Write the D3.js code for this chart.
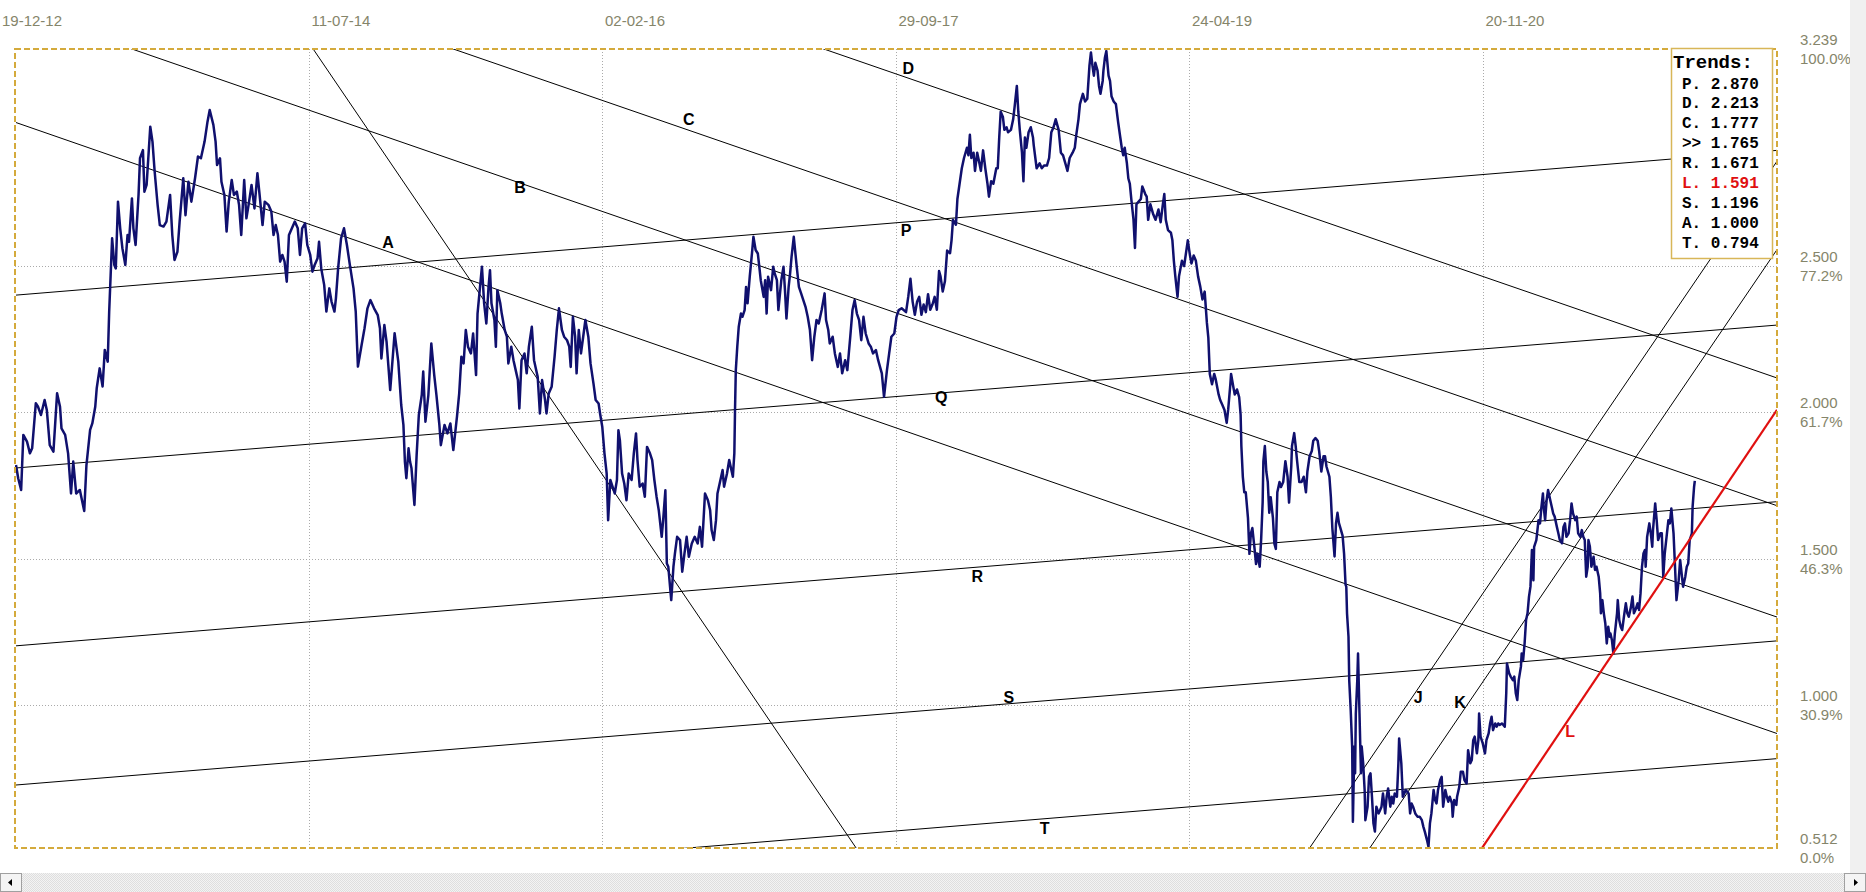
<!DOCTYPE html>
<html>
<head>
<meta charset="utf-8">
<script src="https://cdn.jsdelivr.net/npm/d3@7"></script>
<style>
body { margin:0; background:#fff; overflow:hidden; }
svg { display:block; }
</style>
</head>
<body>
<svg id="view"></svg>
<script>
// date axis: trading-bar index of each label
var dateTicks  = [0, 400, 800, 1200, 1600, 2000];
var dateLabels = ["19-12-12", "11-07-14", "02-02-16", "29-09-17", "24-04-19", "20-11-20"];

// price axis
var valueTicks  = [3.239, 2.5, 2.0, 1.5, 1.0, 0.512];
var valueLabels = ["3.239", "2.500", "2.000", "1.500", "1.000", "0.512"];
var pctLabels   = ["100.0%", "77.2%", "61.7%", "46.3%", "30.9%", "0.0%"];
var gridValues  = [2.5, 2.0, 1.5, 1.0];

// legend
var trendNames  = ["P.", "D.", "C.", ">>", "R.", "L.", "S.", "A.", "T."];
var trendValues = ["2.870", "2.213", "1.777", "1.765", "1.671", "1.591", "1.196", "1.000", "0.794"];

// trend lines: name, bar1, value1, bar2, value2
var trendLines = [
	["A", 0, 2.988, 2288, 1.000],
	["B", 158, 3.239, 2288, 1.397],
	["C", 596, 3.239, 2288, 1.777],
	["D", 1101, 3.239, 2288, 2.213],
	["", 405, 3.239, 1145, 0.512],
	["P", 0, 2.399, 2288, 2.870],
	["Q", 0, 1.809, 2288, 2.274],
	["R", 0, 1.202, 2288, 1.671],
	["S", 0, 0.727, 2288, 1.196],
	["T", 916, 0.512, 2288, 0.794],
	["J", 1763, 0.512, 2197, 2.109],
	["K", 1845, 0.512, 2279, 2.109],
	["L", 1998, 0.512, 2288, 1.591]
];

// letters written next to the lines: name, bar, value
var lineLabels = [
	["A", 507, 2.577], ["B", 687, 2.765], ["C", 917, 2.997], ["D", 1216, 3.174],
	["P", 1213, 2.618], ["Q", 1261, 2.048], ["R", 1310, 1.437], ["S", 1353, 1.027],
	["T", 1402, 0.577], ["J", 1911, 1.024], ["K", 1968, 1.010], ["L", 2118, 0.911]
];

// closing prices [bar, value]
var price = [
[0,1.819],[3,1.774],[7,1.734],[10,1.922],[15,1.899],[19,1.859],[22,1.876],[27,2.030],[30,2.018],[34,1.990],[39,2.041],[42,2.007],[46,1.887],[51,1.865],[53,1.944],[56,2.064],[60,2.018],[62,1.944],[67,1.922],[71,1.859],[75,1.722],[78,1.831],[82,1.722],[87,1.734],[93,1.662],[96,1.819],[101,1.939],[104,1.961],[108,2.018],[110,2.081],[114,2.149],[118,2.087],[121,2.212],[125,2.172],[127,2.343],[129,2.468],[131,2.593],[134,2.502],[136,2.490],[139,2.718],[142,2.627],[145,2.559],[149,2.502],[152,2.604],[154,2.581],[158,2.729],[160,2.627],[163,2.570],[167,2.741],[169,2.866],[173,2.894],[175,2.752],[178,2.775],[183,2.974],[186,2.923],[189,2.820],[193,2.707],[196,2.638],[201,2.633],[205,2.650],[210,2.741],[213,2.604],[216,2.519],[220,2.547],[223,2.650],[228,2.798],[231,2.672],[235,2.786],[239,2.718],[244,2.798],[248,2.872],[252,2.866],[257,2.923],[261,2.991],[264,3.031],[269,2.980],[272,2.923],[274,2.843],[278,2.866],[280,2.786],[284,2.741],[287,2.616],[290,2.718],[294,2.792],[297,2.741],[301,2.752],[304,2.707],[307,2.604],[311,2.792],[314,2.661],[317,2.707],[321,2.775],[325,2.695],[329,2.815],[332,2.741],[336,2.638],[339,2.718],[344,2.707],[348,2.684],[351,2.604],[354,2.638],[357,2.604],[360,2.513],[363,2.536],[366,2.513],[369,2.445],[372,2.604],[376,2.627],[380,2.650],[384,2.627],[387,2.536],[390,2.627],[394,2.644],[397,2.570],[401,2.536],[404,2.479],[407,2.502],[411,2.525],[413,2.581],[416,2.490],[420,2.434],[423,2.343],[427,2.422],[430,2.377],[434,2.343],[436,2.388],[439,2.490],[443,2.593],[447,2.627],[451,2.570],[455,2.502],[460,2.422],[463,2.343],[466,2.155],[471,2.229],[475,2.286],[479,2.354],[483,2.382],[488,2.354],[493,2.331],[496,2.286],[498,2.183],[502,2.297],[505,2.240],[510,2.075],[513,2.172],[516,2.269],[521,2.172],[525,2.024],[528,1.956],[530,1.831],[532,1.774],[535,1.876],[537,1.831],[539,1.808],[543,1.683],[546,1.853],[549,1.990],[553,2.058],[555,2.138],[558,1.967],[562,2.058],[566,2.234],[570,2.126],[573,2.058],[577,1.956],[579,1.887],[584,1.956],
[588,1.927],[592,1.961],[596,1.870],[601,1.984],[604,2.063],[607,2.189],[610,2.166],[613,2.280],[616,2.223],[620,2.200],[623,2.268],[627,2.126],[629,2.336],[632,2.416],[635,2.496],[638,2.371],[641,2.302],[644,2.427],[646,2.484],[648,2.371],[652,2.314],[654,2.223],[656,2.416],[660,2.371],[662,2.336],[666,2.280],[669,2.257],[671,2.166],[675,2.223],[678,2.177],[681,2.143],[684,2.109],[686,2.012],[689,2.177],[693,2.200],[696,2.132],[699,2.223],[703,2.291],[706,2.177],[708,2.154],[711,2.120],[714,1.995],[717,2.109],[721,2.041],[723,1.995],[726,2.063],[730,2.086],[734,2.189],[737,2.280],[740,2.354],[744,2.280],[747,2.257],[751,2.245],[754,2.223],[756,2.154],[759,2.325],[762,2.257],[764,2.132],[767,2.280],[770,2.200],[773,2.257],[776,2.314],[780,2.257],[783,2.166],[787,2.098],[790,2.041],[794,2.029],[796,1.995],[799,1.950],[802,1.859],[805,1.790],[807,1.631],[810,1.768],[813,1.745],[816,1.722],[819,1.768],[821,1.938],[823,1.904],[826,1.790],[829,1.756],[832,1.699],[835,1.790],[839,1.768],[842,1.859],[845,1.927],[847,1.836],[850,1.745],[854,1.756],[857,1.711],[860,1.881],[864,1.859],[867,1.836],[870,1.768],[873,1.711],[876,1.665],[880,1.574],[882,1.631],[885,1.733],[887,1.483],[889,1.472],[893,1.358],[896,1.472],[898,1.517],[901,1.574],[905,1.563],[908,1.455],[911,1.517],[914,1.574],[917,1.506],[921,1.551],[925,1.574],[929,1.551],[932,1.608],[935,1.540],[939,1.722],[943,1.699],[946,1.665],[948,1.597],[951,1.563],[954,1.631],[956,1.722],[959,1.756],[963,1.802],[965,1.745],[969,1.790],[972,1.836],[974,1.813],[977,1.779],[979,1.859],[980,2.018],[981,2.143],[983,2.223],[985,2.291],[988,2.336],[990,2.325],[993,2.348],[995,2.427],[997,2.371],[1000,2.462],[1003,2.541],[1005,2.598],[1008,2.553],[1011,2.541],[1013,2.496],[1015,2.450],[1019,2.393],[1021,2.450],[1023,2.336],[1025,2.462],[1029,2.416],[1032,2.496],[1034,2.473],[1037,2.450],[1039,2.348],[1043,2.450],[1046,2.496],[1048,2.416],[1050,2.319],[1053,2.427],[1055,2.473],[1057,2.530],[1060,2.598],[1064,2.496],[1067,2.427],[1070,2.405],[1073,2.382],[1076,2.359],[1079,2.325],[1082,2.280],[1085,2.177],[1088,2.257],[1091,2.314],[1094,2.302],[1098,2.348],[1102,2.405],[1104,2.314],[1107,2.280],[1109,2.234],[1113,2.257],[1116,2.200],[1120,2.154],[1123,2.200],[1126,2.132],[1130,2.177],[1133,2.143],[1137,2.257],[1140,2.348],[1143,2.382],[1146,2.336],[1149,2.314],[1152,2.245],[1155,2.325],[1158,2.268],[1162,2.234],[1165,2.223],[1168,2.200],[1172,2.211],[1175,2.177],[1180,2.132],[1183,2.052],[1187,2.143],[1190,2.200],[1193,2.257],[1197,2.268],[1200,2.325],[1203,2.348],[1207,2.354],
[1213,2.341],[1216,2.393],[1219,2.455],[1222,2.376],[1225,2.332],[1228,2.376],[1231,2.393],[1234,2.332],[1237,2.367],[1240,2.341],[1243,2.402],[1246,2.349],[1249,2.367],[1252,2.393],[1255,2.349],[1258,2.481],[1260,2.463],[1263,2.411],[1266,2.446],[1269,2.551],[1273,2.542],[1275,2.586],[1277,2.656],[1281,2.639],[1283,2.727],[1287,2.797],[1289,2.832],[1292,2.867],[1296,2.902],[1298,2.876],[1300,2.946],[1302,2.867],[1305,2.885],[1307,2.823],[1310,2.885],[1313,2.849],[1315,2.823],[1318,2.893],[1321,2.832],[1324,2.779],[1326,2.735],[1329,2.788],[1332,2.779],[1336,2.832],[1338,2.832],[1340,2.937],[1342,3.025],[1345,3.007],[1347,2.963],[1350,2.972],[1352,2.955],[1356,2.963],[1359,2.999],[1361,3.042],[1364,3.113],[1366,3.025],[1368,2.963],[1371,2.885],[1373,2.788],[1375,2.937],[1377,2.902],[1380,2.955],[1383,2.972],[1386,2.937],[1387,2.911],[1391,2.832],[1395,2.849],[1398,2.832],[1401,2.841],[1405,2.841],[1408,2.867],[1411,2.955],[1414,2.972],[1417,2.999],[1421,2.963],[1424,2.885],[1427,2.876],[1431,2.841],[1433,2.823],[1436,2.867],[1440,2.885],[1443,2.902],[1445,2.946],[1448,2.999],[1450,3.051],[1454,3.086],[1457,3.060],[1460,3.069],[1463,3.183],[1465,3.227],[1467,3.183],[1469,3.148],[1471,3.192],[1474,3.165],[1476,3.113],[1478,3.086],[1481,3.130],[1482,3.165],[1484,3.209],[1486,3.232],[1489,3.148],[1491,3.130],[1493,3.078],[1496,3.060],[1499,3.051],[1502,2.990],[1505,2.937],[1507,2.902],[1509,2.876],[1511,2.902],[1514,2.849],[1516,2.797],[1518,2.779],[1520,2.727],[1523,2.656],[1525,2.560],[1527,2.709],[1530,2.718],[1533,2.727],[1535,2.770],[1539,2.744],[1541,2.735],[1543,2.656],[1546,2.709],[1550,2.674],[1553,2.656],[1557,2.691],[1560,2.648],[1563,2.709],[1565,2.744],[1567,2.656],[1570,2.621],[1574,2.612],[1576,2.586],[1578,2.516],[1580,2.463],[1583,2.393],[1585,2.463],[1589,2.516],[1592,2.498],[1595,2.551],[1597,2.586],[1600,2.534],[1602,2.507],[1605,2.534],[1608,2.516],[1611,2.463],[1614,2.428],[1617,2.384],[1620,2.411],[1623,2.305],[1625,2.253],[1627,2.130],[1630,2.095],[1633,2.130],[1635,2.112],[1639,2.060],[1641,2.042],[1644,2.025],[1647,2.007],[1650,1.963],[1652,2.007],[1655,2.095],[1656,2.130],[1659,2.086],[1661,2.060],[1664,2.077],[1667,2.051],[1669,1.990],[1670,1.884],[1672,1.779],[1674,1.726],[1676,1.726],[1679,1.639],[1681,1.516],[1683,1.586],[1685,1.604],[1688,1.533],[1690,1.481],[1692,1.516],[1695,1.472],[1697,1.568],[1699,1.691],[1700,1.832],[1702,1.884],[1704,1.797],[1706,1.761],[1708,1.656],[1710,1.709],[1713,1.639],[1715,1.551],[1717,1.533],[1719,1.726],[1722,1.761],[1724,1.744],[1727,1.761],[1730,1.832],[1733,1.779],[1735,1.691],[1738,1.814],[1739,1.884],[1742,1.928],[1744,1.884],[1746,1.832],[1749,1.761],[1752,1.761],[1755,1.779],[1758,1.726],[1760,1.797],[1763,1.849],[1766,1.867],[1768,1.902],[1771,1.911],[1774,1.902],[1776,1.867],[1779,1.797],[1782,1.849],[1784,1.849],[1786,1.814],[1790,1.779],[1792,1.709],[1794,1.604],[1797,1.507],[1799,1.621],[1801,1.656],[1803,1.621],[1805,1.604],[1808,1.577],[1810,1.516],[1812,1.411],
[1813,1.404],[1814,1.313],[1816,1.233],[1817,1.085],[1819,0.983],[1821,0.858],[1822,0.602],[1824,0.858],[1825,0.767],[1826,0.971],[1828,1.085],[1829,1.176],[1831,0.971],[1833,0.767],[1834,0.858],[1836,0.801],[1838,0.710],[1839,0.607],[1842,0.653],[1844,0.755],[1846,0.767],[1848,0.687],[1850,0.596],[1852,0.568],[1854,0.653],[1857,0.630],[1859,0.641],[1861,0.653],[1863,0.698],[1866,0.630],[1868,0.687],[1870,0.715],[1873,0.653],[1875,0.687],[1877,0.664],[1879,0.698],[1882,0.687],[1884,0.801],[1885,0.886],[1888,0.801],[1890,0.687],[1892,0.698],[1894,0.710],[1898,0.698],[1900,0.630],[1902,0.664],[1904,0.653],[1907,0.630],[1910,0.619],[1913,0.619],[1916,0.607],[1918,0.585],[1920,0.568],[1923,0.539],[1925,0.516],[1927,0.596],[1929,0.630],[1932,0.710],[1934,0.676],[1936,0.664],[1938,0.710],[1941,0.744],[1943,0.755],[1945,0.653],[1948,0.710],[1950,0.687],[1952,0.670],[1954,0.687],[1957,0.664],[1958,0.619],[1960,0.676],[1963,0.659],[1964,0.687],[1967,0.721],[1969,0.772],[1972,0.772],[1974,0.744],[1977,0.732],[1979,0.846],[1982,0.801],[1984,0.812],[1986,0.880],[1988,0.892],[1991,0.835],[1993,0.880],[1994,0.971],[1996,0.892],[1999,0.869],[2002,0.835],[2004,0.880],[2007,0.903],[2009,0.937],[2011,0.960],[2013,0.914],[2016,0.937],[2018,0.926],[2020,0.937],[2022,0.932],[2025,0.937],[2027,0.932],[2029,0.926],[2031,1.040],[2032,1.142],[2035,1.108],[2037,1.097],[2040,1.085],[2042,1.097],[2044,1.040],[2046,1.017],[2048,1.085],[2051,1.131],[2052,1.176],[2054,1.153],[2056,1.210],[2058,1.290],[2060,1.313],[2062,1.370],[2064,1.404],[2066,1.529],[2068,1.426],[2069,1.540],[2072,1.563],[2073,1.586],[2075,1.631],[2077,1.620],[2079,1.677],[2081,1.722],[2082,1.677],[2084,1.631],[2086,1.699],[2088,1.734],[2091,1.699],[2093,1.677],[2095,1.654],[2097,1.643],[2100,1.608],[2102,1.586],[2104,1.563],[2107,1.552],[2109,1.608],[2111,1.620],[2113,1.574],[2116,1.586],[2118,1.631],[2120,1.688],[2122,1.654],[2125,1.631],[2127,1.643],[2129,1.586],[2132,1.574],[2134,1.597],[2136,1.574],[2138,1.563],[2140,1.438],[2142,1.472],[2143,1.563],[2145,1.540],[2147,1.472],[2150,1.506],[2152,1.461],[2154,1.472],[2157,1.438],[2159,1.381],[2160,1.313],[2162,1.358],[2164,1.313],[2166,1.279],[2168,1.210],[2170,1.267],[2172,1.233],[2173,1.244],[2175,1.222],[2177,1.176],[2179,1.244],[2182,1.313],[2183,1.358],[2185,1.290],[2187,1.267],[2189,1.256],[2192,1.313],[2194,1.347],[2196,1.313],[2198,1.301],[2201,1.335],[2203,1.370],[2205,1.313],[2207,1.324],[2210,1.347],[2212,1.324],[2214,1.381],[2216,1.472],[2218,1.517],[2220,1.529],[2221,1.472],[2223,1.574],[2226,1.620],[2228,1.586],[2230,1.540],[2231,1.597],[2234,1.688],[2236,1.631],[2238,1.563],[2241,1.586],[2243,1.586],[2245,1.438],[2247,1.517],[2250,1.586],[2252,1.631],[2254,1.620],[2256,1.671],[2259,1.586],[2261,1.472],[2263,1.358],[2266,1.426],[2268,1.495],[2270,1.449],[2272,1.404],[2275,1.438],[2277,1.472],[2279,1.483],[2281,1.563],[2284,1.586],[2285,1.677],[2287,1.745],[2288,1.765]
];

var W = 1866, H = 892;
var plotL = 15, plotT = 49, plotR = 1777, plotB = 848;
var axisColor = "#85856a";
var gold = "#d4aa3c";

var svg = d3.select("#view").attr("width", W).attr("height", H);

var x = d3.scaleLinear().domain([0, 2400]).range([16, plotR]);
var y = d3.scaleLinear().domain([0.512, 3.239]).range([plotB, plotT]);

svg.append("rect").attr("width", W).attr("height", H).attr("fill", "#fff");

svg.append("clipPath").attr("id", "plot")
	.append("rect").attr("x", plotL).attr("y", plotT)
	.attr("width", plotR - plotL).attr("height", plotB - plotT);

// dotted grid
var grid = svg.append("g").attr("stroke", "#aaaaaa").attr("stroke-dasharray", "1,2")
	.attr("shape-rendering", "crispEdges");
grid.selectAll(".v").data(dateTicks.slice(1)).join("line").attr("class", "v")
	.attr("x1", d => Math.floor(x(d)) + 0.5).attr("x2", d => Math.floor(x(d)) + 0.5)
	.attr("y1", plotT).attr("y2", plotB);
grid.selectAll(".h").data(gridValues).join("line").attr("class", "h")
	.attr("x1", plotL).attr("x2", plotR)
	.attr("y1", d => Math.round(y(d)) + 0.5).attr("y2", d => Math.round(y(d)) + 0.5);

// date labels along the top
svg.append("g").selectAll("text").data(dateTicks).join("text")
	.attr("x", (d, i) => i == 0 ? 2 : x(d) + 2)
	.attr("y", 26)
	.attr("fill", axisColor)
	.style("font", "15px 'Liberation Sans', Arial, sans-serif")
	.text((d, i) => dateLabels[i]);

// price labels on the right
var yl = svg.append("g").attr("fill", axisColor)
	.style("font", "15px 'Liberation Sans', Arial, sans-serif");
yl.selectAll(".val").data(valueTicks).join("text").attr("class", "val")
	.attr("x", 1800).attr("y", d => y(d) - 4).text((d, i) => valueLabels[i]);
yl.selectAll(".pct").data(valueTicks).join("text").attr("class", "pct")
	.attr("x", 1800).attr("y", d => y(d) + 15).text((d, i) => pctLabels[i]);

// trend lines, extended over the whole frame
function along(t, b) {
	return t[2] + (t[4] - t[2]) * (b - t[1]) / (t[3] - t[1]);
}
var plot = svg.append("g").attr("clip-path", "url(#plot)");
var isRed = t => t[0] == "L";

plot.selectAll(".trend").data(trendLines.filter(t => !isRed(t))).join("line").attr("class", "trend")
	.attr("x1", x(0)).attr("y1", t => y(along(t, 0)))
	.attr("x2", x(2400)).attr("y2", t => y(along(t, 2400)))
	.attr("stroke", "#000").attr("stroke-width", 1);

plot.append("path")
	.datum(price)
	.attr("fill", "none")
	.attr("stroke", "#10106e")
	.attr("stroke-width", 2.5)
	.attr("stroke-linejoin", "round")
	.attr("d", d3.line().x(d => x(d[0])).y(d => y(d[1])));

plot.selectAll(".red").data(trendLines.filter(isRed)).join("line").attr("class", "red")
	.attr("x1", x(0)).attr("y1", t => y(along(t, 0)))
	.attr("x2", x(2400)).attr("y2", t => y(along(t, 2400)))
	.attr("stroke", "#e01010").attr("stroke-width", 2.2);

// line letters
svg.append("g").selectAll("text").data(lineLabels).join("text")
	.attr("x", d => x(d[1])).attr("y", d => y(d[2]))
	.attr("text-anchor", "middle").attr("dominant-baseline", "central")
	.attr("fill", d => d[0] == "L" ? "#e01010" : "#000")
	.style("font", "bold 16px 'Liberation Sans', Arial, sans-serif")
	.text(d => d[0]);

// dashed frame
svg.append("rect")
	.attr("x", plotL).attr("y", plotT).attr("width", plotR - plotL).attr("height", plotB - plotT)
	.attr("fill", "none").attr("stroke", gold).attr("stroke-width", 2)
	.attr("stroke-dasharray", "6,3");

// legend box
var lg = svg.append("g");
lg.append("rect").attr("x", 1671.5).attr("y", 48.5).attr("width", 101).attr("height", 210)
	.attr("fill", "#fff").attr("stroke", "#d8b658").attr("stroke-width", 1.5);
lg.append("text").attr("x", 1673).attr("y", 68)
	.style("font", "bold 19px 'Liberation Mono', 'Courier New', monospace")
	.text("Trends:");
lg.selectAll(".row").data(trendNames).join("text").attr("class", "row")
	.attr("x", 1682).attr("y", (d, i) => 88.5 + i * 19.95)
	.attr("fill", d => d == "L." ? "#e01010" : "#000")
	.style("font", "bold 16px 'Liberation Mono', 'Courier New', monospace")
	.style("white-space", "pre")
	.text((d, i) => d + " " + trendValues[i]);

// window chrome: right strip and bottom scrollbar
var defs = svg.append("defs");
var pat = defs.append("pattern").attr("id", "hatch").attr("width", 2).attr("height", 2)
	.attr("patternUnits", "userSpaceOnUse");
pat.append("rect").attr("width", 2).attr("height", 2).attr("fill", "#f3f3f3");
pat.append("rect").attr("width", 1).attr("height", 1).attr("fill", "#dedede");
pat.append("rect").attr("x", 1).attr("y", 1).attr("width", 1).attr("height", 1).attr("fill", "#dedede");

svg.append("rect").attr("x", 1850).attr("y", 0).attr("width", 16).attr("height", 873).attr("fill", "#f0f0f0");
svg.append("rect").attr("x", 0).attr("y", 873).attr("width", W).attr("height", 19).attr("fill", "url(#hatch)");

function button(bx, dir) {
	var g = svg.append("g");
	g.append("rect").attr("x", bx + 0.5).attr("y", 873.5).attr("width", 21).attr("height", 18)
		.attr("fill", "#f4f4f4").attr("stroke", "#a0a0a0");
	var cx = bx + 11;
	var pts = dir < 0
		? [[cx - 3, 882.5], [cx + 1, 879], [cx + 1, 886]]
		: [[cx + 3, 882.5], [cx - 1, 879], [cx - 1, 886]];
	g.append("polygon").attr("points", pts.map(p => p.join(",")).join(" ")).attr("fill", "#000");
}
button(0, -1);
button(1844, 1);
</script>
</body>
</html>
